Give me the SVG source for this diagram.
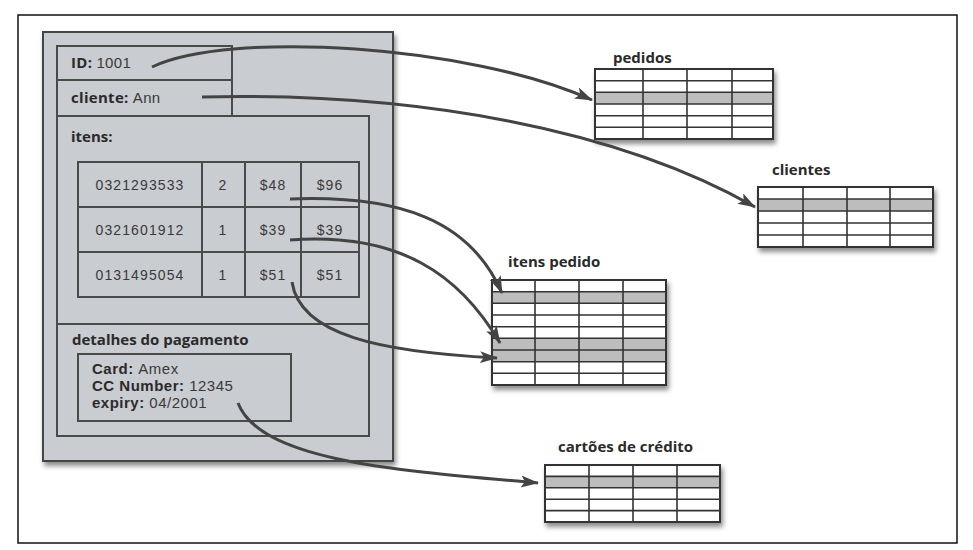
<svg xmlns="http://www.w3.org/2000/svg" width="973" height="550" viewBox="0 0 973 550">
<style>
.frame{fill:#fff;stroke:#111;stroke-width:1.5}
.box{fill:#c9ccd1;stroke:#444;stroke-width:2}
.ln{fill:none;stroke:#4a4a4a;stroke-width:2}
.lbl{font-family:"Open Sans","Liberation Sans",sans-serif;font-weight:700;font-size:15px;fill:#2a2a2a}
.val{font-family:"Liberation Sans",Arial,sans-serif;font-weight:400;font-size:15px;fill:#3a3a3a}
.pl{font-family:"Liberation Sans",Arial,sans-serif;font-weight:700;font-size:15px;fill:#2a2a2a;letter-spacing:0.5px}
.cell{font-family:"Liberation Sans",Arial,sans-serif;font-size:14px;fill:#3a3a3a;text-anchor:middle;letter-spacing:1.1px}
.tbl{fill:#fff;stroke:#333;stroke-width:2}
.g{fill:#bdbdbd}
.tl{stroke:#333;stroke-width:1.6;fill:none}
.tname{font-family:"Open Sans","Liberation Sans",sans-serif;font-weight:700;font-size:15px;fill:#2a2a2a}
.con{fill:none;stroke:#444;stroke-width:3;marker-end:url(#ah)}
</style>
<defs>
<marker id="ah" markerUnits="userSpaceOnUse" markerWidth="20" markerHeight="14" refX="17" refY="6" orient="auto">
<path d="M0,0 L18,6 L0,12 L4,6 z" fill="#444"/>
</marker>
<filter id="sh" x="-10%" y="-10%" width="125%" height="135%">
<feDropShadow dx="2" dy="4" stdDeviation="2.5" flood-color="#000" flood-opacity="0.45"/>
</filter>
</defs>
<rect class="frame" x="18" y="15" width="939" height="528"/>

<g id="documento">
<rect class="box" x="43" y="32" width="350" height="429" filter="url(#sh)"/>
<path class="ln" d="M57,116 V46 H232 V116 M57,80 H232 M57,116 H369 V436 H57 Z M57,324 H369"/>
<text class="lbl" x="71" y="68" letter-spacing="0.3">ID: <tspan class="val">1001</tspan></text>
<text class="lbl" x="71" y="103" letter-spacing="0.3">cliente: <tspan class="val">Ann</tspan></text>
<text class="lbl" x="71" y="142">itens:</text>
<rect class="ln" x="78" y="162" width="281" height="135"/>
<path class="ln" d="M78,207 H359 M78,252 H359 M202,162 V297 M245,162 V297 M301,162 V297"/>
<text class="cell" x="140" y="190">0321293533</text>
<text class="cell" x="223" y="190">2</text>
<text class="cell" x="273" y="190">$48</text>
<text class="cell" x="330" y="190">$96</text>
<text class="cell" x="140" y="235">0321601912</text>
<text class="cell" x="223" y="235">1</text>
<text class="cell" x="273" y="235">$39</text>
<text class="cell" x="330" y="235">$39</text>
<text class="cell" x="140" y="280">0131495054</text>
<text class="cell" x="223" y="280">1</text>
<text class="cell" x="273" y="280">$51</text>
<text class="cell" x="330" y="280">$51</text>
<text class="lbl" x="72" y="345" font-size="15.6">detalhes do pagamento</text>
<rect class="ln" x="78" y="354" width="213" height="67"/>
<text class="pl" x="92" y="374">Card: <tspan class="val">Amex</tspan></text>
<text class="pl" x="92" y="391">CC Number: <tspan class="val">12345</tspan></text>
<text class="pl" x="92" y="408">expiry: <tspan class="val">04/2001</tspan></text>
</g>

<g id="pedidos">
<text class="tname" x="613" y="63">pedidos</text>
<rect class="tbl" x="595" y="69" width="178" height="70" filter="url(#sh)"/>
<rect class="g" x="596" y="92.3" width="176" height="11.7"/>
<path class="tl" d="M595,80.7 H773 M595,92.3 H773 M595,104 H773 M595,115.7 H773 M595,127.3 H773 M643,69 V139 M687,69 V139 M732,69 V139"/>
<rect x="595" y="69" width="178" height="70" fill="none" stroke="#333" stroke-width="2"/>
</g>

<g id="clientes">
<text class="tname" x="772" y="175">clientes</text>
<rect class="tbl" x="758" y="187" width="175" height="60" filter="url(#sh)"/>
<rect class="g" x="759" y="199" width="173" height="12"/>
<path class="tl" d="M758,199 H933 M758,211 H933 M758,223 H933 M758,235 H933 M803,187 V247 M847,187 V247 M890,187 V247"/>
<rect x="758" y="187" width="175" height="60" fill="none" stroke="#333" stroke-width="2"/>
</g>

<g id="itens-pedido">
<text class="tname" x="508" y="267">itens pedido</text>
<rect class="tbl" x="492" y="280" width="174" height="105" filter="url(#sh)"/>
<rect class="g" x="493" y="291.7" width="172" height="11.7"/>
<rect class="g" x="493" y="338.3" width="172" height="23.4"/>
<path class="tl" d="M492,291.7 H666 M492,303.3 H666 M492,315 H666 M492,326.7 H666 M492,338.3 H666 M492,350 H666 M492,361.7 H666 M492,373.3 H666 M535,280 V385 M579,280 V385 M623,280 V385"/>
<rect x="492" y="280" width="174" height="105" fill="none" stroke="#333" stroke-width="2"/>
</g>

<g id="cartoes-de-credito">
<text class="tname" x="558" y="452">cartões de crédito</text>
<rect class="tbl" x="545" y="465" width="175" height="57" filter="url(#sh)"/>
<rect class="g" x="546" y="476.4" width="173" height="11.4"/>
<path class="tl" d="M545,476.4 H720 M545,487.8 H720 M545,499.2 H720 M545,510.6 H720 M589,465 V522 M633,465 V522 M677,465 V522"/>
<rect x="545" y="465" width="175" height="57" fill="none" stroke="#333" stroke-width="2"/>
</g>

<g id="conectores">
<path class="con" d="M152,67 C230,30 470,45 592,100"/>
<path class="con" d="M202,97 C420,92 620,130 755,207"/>
<path class="con" d="M290,199 C400,195 470,220 502,293"/>
<path class="con" d="M290,240 C400,232 460,275 500,343"/>
<path class="con" d="M292,282 C300,335 380,352 497,358"/>
<path class="con" d="M238,403 C260,460 390,470 538,483"/>
</g>
</svg>
